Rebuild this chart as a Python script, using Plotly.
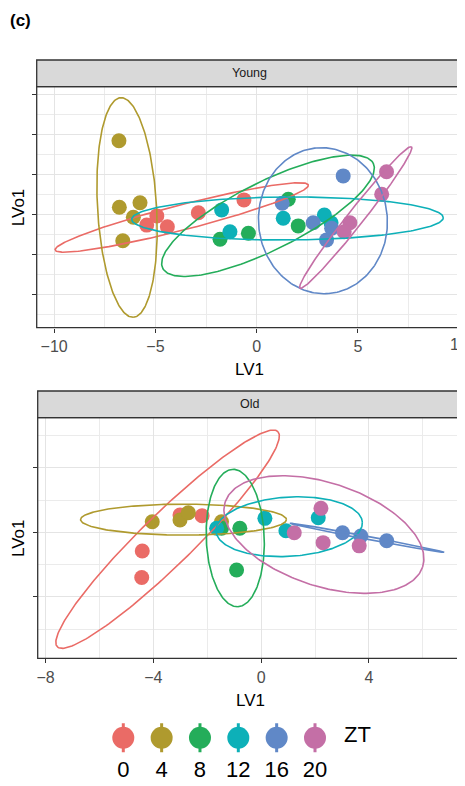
import numpy as np
import plotly.graph_objects as go

# The page body has an 8px margin, so the figure is laid out 8px smaller
OFF = 8
W, H = 465 - OFF, 786 - OFF
FONT = "Liberation Sans, Arial, Helvetica, sans-serif"

zt_labels = ["0", "4", "8", "12", "16", "20"]
colors = ["#EA6B66", "#AF9A2E", "#24AD5A", "#0DB0B8", "#6088C7", "#C46FA6"]

# ---- Young panel: points per ZT group ----
young_lv1 = [
    [-5.43, -4.93, -4.41, -2.88, -0.63],
    [-6.80, -6.78, -5.76, -6.09, -6.61],
    [-1.81, -0.41, 1.56, 2.05],
    [-1.73, -1.32, 1.31, 3.34, 3.67],
    [4.27, 1.26, 2.79, 3.45, 3.70],
    [6.41, 6.17, 4.60, 4.32],
]
young_lvo1 = [
    [-0.27, -0.04, -0.31, 0.04, 0.36],
    [1.84, 0.175, 0.29, -0.075, -0.66],
    [-0.625, -0.475, 0.375, -0.29],
    [0.11, -0.435, -0.10, -0.02, -0.21],
    [0.96, 0.275, -0.21, -0.64, -0.35],
    [1.065, 0.5, -0.21, -0.435],
]
# Young ellipses: centre, major half-axis vector, minor half-axis vector (data units)
young_ell_cx = [-3.70, -6.40, 0.558, 1.52, 3.27, 4.89]
young_ell_cy = [-0.08, 0.17, -0.0375, -0.105, -0.16, -0.08]
young_ell_ax = [6.25, 0.311, 5.196, 7.69, 0.289, 2.754]
young_ell_ay = [0.8125, -2.745, 1.3125, 0.02, -1.82, 1.77]
young_ell_bx = [0.153, 1.456, 0.75, 0.0, 3.17, 0.31]
young_ell_by = [-0.305, 0.0425, -0.76, 0.5375, 0.13, -0.124]

# ---- Old panel ----
old_lv1 = [
    [-4.41, -4.43, -2.19, -3.01],
    [-4.04, -3.01, -2.70, -1.47],
    [-1.47, -0.79, -0.91],
    [-1.65, 0.14, 0.92, 2.12],
    [3.02, 3.70, 4.66],
    [2.22, 1.23, 2.30, 3.64],
]
old_lvo1 = [
    [-0.29, -0.70, 0.257, 0.268],
    [0.164, 0.19, 0.304, 0.164],
    [0.062, 0.062, -0.584],
    [0.062, 0.217, 0.025, 0.226],
    [-0.006, -0.057, -0.13],
    [0.372, -0.006, -0.16, -0.21],
]
old_ell_cx = [-3.47, -2.88, -0.96, 1.04, 3.93, 2.33]
old_ell_cy = [-0.107, 0.197, -0.088, 0.087, -0.085, -0.034]
old_ell_ax = [4.093, 3.82, 0.093, 2.716, 2.865, 3.662]
old_ell_ay = [1.668, 0.0, -1.065, 0.0698, -0.225, -0.504]
old_ell_bx = [0.668, 0.0, 1.076, 0.067, -0.0103, -0.597]
old_ell_by = [-0.287, -0.24, 0.016, -0.459, -0.0229, -0.760]

young_xticks = [-10, -5, 0, 5, 10]
young_xminor = [-7.5, -2.5, 2.5, 7.5]
young_yticks = [-2, -1, 0, 1, 2, 3]
young_yminor = [-2.5, -1.5, -0.5, 0.5, 1.5, 2.5]
old_xticks = [-8, -4, 0, 4]
old_xminor = [-6, -2, 2, 6]
old_yticks = [-1, 0, 1]
old_yminor = [-1.5, -0.5, 0.5, 1.5]

fig = go.Figure()
t = np.linspace(0, 2 * np.pi, 240)


def add_panel(xs, ys, cx, cy, ax, ay, bx, by, xa, ya):
    for i in range(6):
        fig.add_trace(go.Scatter(x=xs[i], y=ys[i], mode="markers",
                                 marker=dict(size=15, color=colors[i], line=dict(width=0)),
                                 xaxis=xa, yaxis=ya, showlegend=False, hoverinfo="skip"))
    for i in range(6):
        ex = cx[i] + ax[i] * np.cos(t) + bx[i] * np.sin(t)
        ey = cy[i] + ay[i] * np.cos(t) + by[i] * np.sin(t)
        fig.add_trace(go.Scatter(x=ex, y=ey, mode="lines",
                                 line=dict(color=colors[i], width=1.6),
                                 xaxis=xa, yaxis=ya, showlegend=False, hoverinfo="skip"))


add_panel(young_lv1, young_lvo1, young_ell_cx, young_ell_cy, young_ell_ax, young_ell_ay,
          young_ell_bx, young_ell_by, "x", "y")
add_panel(old_lv1, old_lvo1, old_ell_cx, old_ell_cy, old_ell_ax, old_ell_ay,
          old_ell_bx, old_ell_by, "x2", "y2")

# ---- legend (custom, drawn in a hidden axis whose units are pixels) ----
LEG_X0, LEG_DX, LEG_Y = 123.3, 38.34, 737.7
BAND = 0.1
band_top = H - BAND * H
y_r1 = (LEG_Y - OFF) - band_top
y_r0 = y_r1 - BAND * H
x_r0 = -(LEG_X0 - OFF) / LEG_DX
x_r1 = x_r0 + W / LEG_DX

for i in range(6):
    fig.add_trace(go.Scatter(x=[i], y=[0], mode="markers",
                             marker=dict(size=22, color=colors[i], line=dict(width=0)),
                             error_y=dict(type="data", array=[14.5], color=colors[i],
                                          thickness=3, width=0),
                             xaxis="x3", yaxis="y3", showlegend=False, hoverinfo="skip"))
fig.add_trace(go.Scatter(x=list(range(6)), y=[-34] * 6, mode="text", text=zt_labels,
                         textfont=dict(size=22, color="black", family=FONT),
                         xaxis="x3", yaxis="y3", showlegend=False, hoverinfo="skip"))

GRID = "#E4E4E4"
GRIDMINOR = "#EBEBEB"
TICKFONT = dict(family=FONT, size=16, color="#4D4D4D")


def axis_common(rng, tickvals, minorvals, dom, labels=True, anchor=None):
    d = dict(range=rng, domain=dom, tickmode="array", tickvals=tickvals,
             showgrid=True, gridcolor=GRID, gridwidth=1.3, zeroline=False,
             ticks="outside", ticklen=4, tickwidth=1.3, tickcolor="#333333",
             showline=False, showticklabels=labels, tickfont=TICKFONT,
             minor=dict(tickvals=minorvals, showgrid=True, gridcolor=GRIDMINOR, gridwidth=1.0),
             fixedrange=True)
    if anchor:
        d["anchor"] = anchor
    return d


def fx(px):
    return (px - OFF) / W


def fy(py):
    return 1 - (py - OFF) / H


Y_L, Y_R, Y_T, Y_B = 36.7, 462.3, 86.7, 327.7
O_L, O_R, O_T, O_B = 37.7, 462.7, 417.7, 658.3

layout = dict(
    width=W, height=H, margin=dict(l=0, r=0, t=0, b=0, pad=0),
    paper_bgcolor="white", plot_bgcolor="white", showlegend=False, hovermode=False,
    font=dict(family=FONT),
    xaxis=axis_common([-10.86, 10.15], young_xticks, young_xminor, [fx(Y_L), fx(Y_R)], True, "y"),
    yaxis=axis_common([-2.835, 3.19], young_yticks, young_yminor, [fy(Y_B), fy(Y_T)], False, "x"),
    xaxis2=axis_common([-8.29, 7.48], old_xticks, old_xminor, [fx(O_L), fx(O_R)], True, "y2"),
    yaxis2=axis_common([-1.953, 1.777], old_yticks, old_yminor, [fy(O_B), fy(O_T)], False, "x2"),
    xaxis3=dict(domain=[0, 1], range=[x_r0, x_r1], visible=False, anchor="y3", fixedrange=True),
    yaxis3=dict(domain=[0, BAND], range=[y_r0, y_r1], visible=False, anchor="x3", fixedrange=True),
)
fig.update_layout(**layout)

shapes = []
annotations = []
for (l, r, top, bot, label) in [(Y_L, Y_R, Y_T, Y_B, "Young"), (O_L, O_R, O_T, O_B, "Old")]:
    # panel border
    shapes.append(dict(type="rect", xref="paper", yref="paper", x0=fx(l), x1=fx(r),
                       y0=fy(bot), y1=fy(top), line=dict(color="#333333", width=1.3),
                       fillcolor="rgba(0,0,0,0)", layer="above"))
    # strip
    stop = top - 26.7
    shapes.append(dict(type="rect", xref="paper", yref="paper", x0=fx(l), x1=fx(r),
                       y0=fy(top), y1=fy(stop), line=dict(color="#333333", width=1.3),
                       fillcolor="#D9D9D9", layer="above"))
    annotations.append(dict(text=label, xref="paper", yref="paper", x=fx((l + r) / 2),
                            y=fy((stop + top) / 2), showarrow=False, xanchor="center",
                            yanchor="middle", font=dict(family=FONT, size=12.5, color="#1A1A1A")))
    # axis titles
    annotations.append(dict(text="LV1", xref="paper", yref="paper", x=fx((l + r) / 2),
                            y=fy(bot + 42), showarrow=False, xanchor="center",
                            yanchor="middle", font=dict(family=FONT, size=17, color="black")))
    annotations.append(dict(text="LVo1", xref="paper", yref="paper", x=fx(18),
                            y=fy((top + bot) / 2), showarrow=False, textangle=-90,
                            xanchor="center", yanchor="middle",
                            font=dict(family=FONT, size=17, color="black")))

# last Young tick label ("10"), which sits at the page's right edge and is cut there
annotations.append(dict(text=str(young_xticks[-1]), xref="x", yref="paper", x=young_xticks[-1],
                        y=fy(Y_B + 6), showarrow=False, xanchor="center", yanchor="top",
                        font=TICKFONT))

annotations.append(dict(text="<b>(c)</b>", xref="paper", yref="paper", x=fx(8), y=fy(20.5),
                        showarrow=False, xanchor="left", yanchor="middle",
                        font=dict(family=FONT, size=17, color="black")))
annotations.append(dict(text="ZT", xref="paper", yref="paper", x=fx(342), y=fy(734),
                        showarrow=False, xanchor="left", yanchor="middle",
                        font=dict(family=FONT, size=22, color="black")))

fig.update_layout(shapes=shapes, annotations=annotations)
fig.write_html("out.html")
